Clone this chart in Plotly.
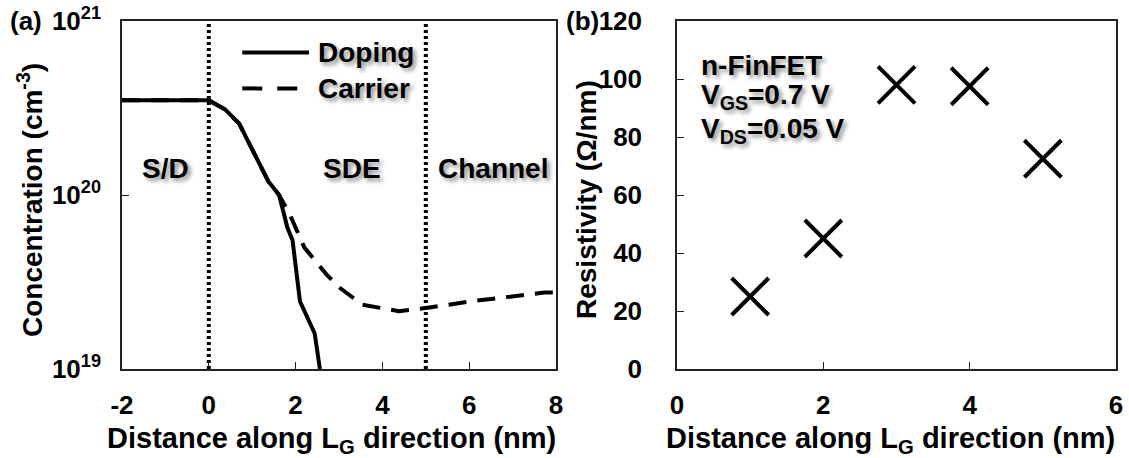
import math
import plotly.graph_objects as go

# (a) doping / carrier profile along the gate-length direction
dist_doping = [-2.0, 0.0, 0.38, 0.7, 1.37, 1.62, 1.81, 1.93, 2.10, 2.44, 2.56]
doping = [3.5e20, 3.5e20, 3.1e20, 2.57e20, 1.2e20, 1.0e20, 6.5e19, 5.5e19, 2.45e19, 1.6e19, 1.0e19]

dist_carrier = [-2.0, 0.0, 0.38, 0.7, 1.37, 1.62, 1.87, 2.2, 2.71, 3.0, 3.54, 4.38, 5.0, 6.05, 7.73, 8.0]
carrier = [3.5e20, 3.5e20, 3.1e20, 2.57e20, 1.2e20, 1.0e20, 7.7e19, 5.0e19, 3.5e19, 2.95e19,
           2.34e19, 2.15e19, 2.24e19, 2.45e19, 2.75e19, 2.75e19]

region_bounds = [0, 5]
region_names = ["S/D", "SDE", "Channel"]
region_centers = [-1.0, 3.3, 6.55]

x_ticks_a = [-2, 0, 2, 4, 6, 8]
x_ticktext_a = ["-2", "0", "2", "4", "6", "8"]

# (b) resistivity along the gate-length direction
dist_res = [1, 2, 3, 4, 5]
resistivity = [25, 45, 98, 97.5, 72.5]

FONT = "Liberation Sans, Arial, sans-serif"
SHADOW = "3px 3px 4px rgba(0,0,0,0.45)"
W, H = 1129, 458

fig = go.Figure()

fig.add_trace(go.Scatter(x=dist_doping, y=doping, mode="lines",
                         line=dict(color="black", width=4), showlegend=False,
                         xaxis="x", yaxis="y"))
fig.add_trace(go.Scatter(x=dist_carrier, y=carrier, mode="lines",
                         line=dict(color="black", width=4, dash="18px,11px"), showlegend=False,
                         xaxis="x", yaxis="y"))
fig.add_trace(go.Scatter(x=dist_res, y=resistivity, mode="markers",
                         marker=dict(symbol="x-thin-open", size=37, color="black",
                                     line=dict(color="black", width=4)),
                         showlegend=False, xaxis="x2", yaxis="y2"))

# region boundaries
for xb in region_bounds:
    fig.add_shape(type="line", xref="x", yref="y domain", x0=xb, x1=xb, y0=0, y1=1,
                  line=dict(color="black", width=4, dash="3px,3px"))

# legend samples for panel (a)
leg_y = [6.6e20, 4.1e20]
fig.add_shape(type="line", xref="x", yref="y", x0=0.77, x1=2.31, y0=leg_y[0], y1=leg_y[0],
              line=dict(color="black", width=4))
fig.add_shape(type="line", xref="x", yref="y", x0=0.77, x1=2.12, y0=leg_y[1], y1=leg_y[1],
              line=dict(color="black", width=4, dash="20px,15px"))

ann = []
# annotation positions on the log axis are given in log10 units
for name, yv in zip(["Doping", "Carrier"], leg_y):
    ann.append(dict(text=name, x=2.47, y=math.log10(yv), xref="x", yref="y",
                    xanchor="left", yanchor="middle", showarrow=False,
                    font=dict(family=FONT, size=28, weight=700, color="black", shadow=SHADOW)))
for name, xc in zip(region_names, region_centers):
    ann.append(dict(text=name, x=xc, y=20.155, xref="x", yref="y", xanchor="center",
                    yanchor="middle", showarrow=False,
                    font=dict(family=FONT, size=28, weight=700, color="black", shadow=SHADOW)))

cond_lines = ["n-FinFET", "V<sub>GS</sub>=0.7 V", "V<sub>DS</sub>=0.05 V"]
cond_y = [104.8, 93.8, 82.4]
for t, yv in zip(cond_lines, cond_y):
    ann.append(dict(text=t, x=0.3, y=yv, xref="x2", yref="y2", xanchor="left",
                    yanchor="middle", showarrow=False,
                    font=dict(family=FONT, size=28, weight=700, color="black", shadow=SHADOW)))

# panel tags
ann.append(dict(text="(a)", x=8 / W, y=1 - 21 / H, xref="paper", yref="paper", xanchor="left",
                yanchor="middle", showarrow=False,
                font=dict(family=FONT, size=26, weight=700, color="black")))
ann.append(dict(text="(b)", x=564 / W, y=1 - 21 / H, xref="paper", yref="paper", xanchor="left",
                yanchor="middle", showarrow=False,
                font=dict(family=FONT, size=26, weight=700, color="black")))

# axis titles
xt = "Distance along L<sub>G</sub> direction (nm)"
ann.append(dict(text=xt, x=331 / W, y=1 - 440 / H, xref="paper", yref="paper",
                xanchor="center", yanchor="middle", showarrow=False,
                font=dict(family=FONT, size=29, weight=700, color="black")))
ann.append(dict(text=xt, x=890 / W, y=1 - 440 / H, xref="paper", yref="paper",
                xanchor="center", yanchor="middle", showarrow=False,
                font=dict(family=FONT, size=29, weight=700, color="black")))
ann.append(dict(text="Concentration (cm<sup>-3</sup>)", x=30 / W, y=1 - 200 / H, xref="paper",
                yref="paper", xanchor="center", yanchor="middle", textangle=-90, showarrow=False,
                font=dict(family=FONT, size=28, weight=700, color="black")))
ann.append(dict(text="Resistivity (Ω/nm)", x=586 / W, y=1 - 200 / H, xref="paper",
                yref="paper", xanchor="center", yanchor="middle", textangle=-90, showarrow=False,
                font=dict(family=FONT, size=28, weight=700, color="black")))

tickfont = dict(family=FONT, size=26, weight=700, color="black")
axis_common = dict(showline=True, mirror=True, linecolor="#222", linewidth=1.5,
                   showgrid=False, zeroline=False, ticks="inside", ticklen=7,
                   tickwidth=1.3, tickcolor="#222", tickfont=tickfont, automargin=False)

fig.update_layout(
    width=W, height=H,
    margin=dict(l=0, r=0, t=0, b=0, autoexpand=False),
    paper_bgcolor="white", plot_bgcolor="white",
    showlegend=False,
    xaxis=dict(domain=[122 / W, 556 / W], range=[-2, 8], tickvals=x_ticks_a,
               ticktext=x_ticktext_a, anchor="y", ticklabelstandoff=12, **axis_common),
    yaxis=dict(domain=[1 - 369 / H, 1 - 21 / H], type="log", range=[19, 21],
               tickvals=[1e19, 1e20, 1e21],
               ticktext=["10<sup>19</sup>", "10<sup>20</sup>", "10<sup>21</sup>"],
               anchor="x", ticklabelstandoff=14, **axis_common),
    xaxis2=dict(domain=[677 / W, 1116 / W], range=[0, 6], tickvals=[0, 2, 4, 6],
                anchor="y2", ticklabelstandoff=12, **axis_common),
    yaxis2=dict(domain=[1 - 369 / H, 1 - 21 / H], range=[0, 120],
                tickvals=[0, 20, 40, 60, 80, 100, 120],
                anchor="x2", ticklabelstandoff=28, **axis_common),
    annotations=ann,
)

fig.write_html("out.html")
